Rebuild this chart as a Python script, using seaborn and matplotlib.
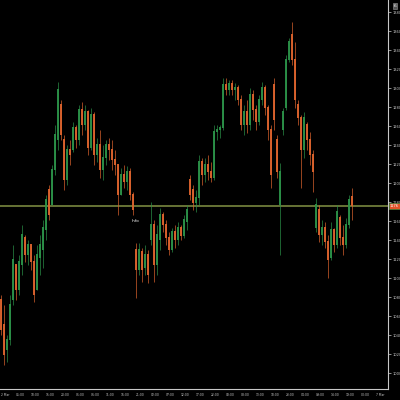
import matplotlib
matplotlib.use("Agg")
import matplotlib.pyplot as plt
import seaborn as sns
import numpy as np

# hourly candles
opens = [1077, 1051, 1025, 1035, 1077, 1114, 1088, 1114, 1142, 1125,
         1135, 1117, 1088, 1121, 1130, 1151, 1193, 1177, 1214, 1246,
         1282, 1246, 1204, 1235, 1235, 1258, 1246, 1277, 1261, 1275,
         1237, 1272, 1230, 1240, 1214, 1227, 1240, 1235, 1225, 1219,
         1188, 1209, 1201, 1212, 1188, 1130, 1109, 1128, 1111, 1125,
         1140, 1156, 1114, 1140, 1167, 1156, 1142, 1130, 1149, 1140,
         1153, 1145, 1159, 1204, 1193, 1179, 1185, 1222, 1209, 1219,
         1212, 1206, 1254, 1256, 1258, 1304, 1298, 1305, 1298, 1300,
         1288, 1261, 1275, 1261, 1293, 1277, 1265, 1288, 1300, 1279,
         1256, 1304, 1246, 1177, 1256, 1279, 1330, 1356, 1330, 1282,
         1269, 1235, 1261, 1246, 1230, 1153, 1172, 1146, 1153, 1138,
         1121, 1151, 1135, 1164, 1142, 1135, 1156, 1186]
highs = [1082, 1072, 1040, 1082, 1135, 1114, 1125, 1156, 1146, 1140,
         1135, 1125, 1135, 1146, 1161, 1188, 1198, 1219, 1261, 1307,
         1288, 1251, 1240, 1246, 1265, 1261, 1282, 1286, 1282, 1277,
         1279, 1275, 1248, 1256, 1240, 1246, 1248, 1246, 1235, 1219,
         1216, 1219, 1218, 1216, 1191, 1137, 1137, 1132, 1135, 1130,
         1180, 1161, 1156, 1174, 1170, 1161, 1149, 1153, 1156, 1159,
         1156, 1167, 1177, 1209, 1198, 1193, 1230, 1227, 1227, 1230,
         1222, 1261, 1261, 1261, 1311, 1311, 1309, 1309, 1306, 1304,
         1293, 1282, 1288, 1300, 1298, 1282, 1293, 1307, 1304, 1282,
         1261, 1311, 1251, 1221, 1279, 1335, 1353, 1370, 1349, 1288,
         1272, 1275, 1265, 1254, 1235, 1185, 1177, 1161, 1159, 1146,
         1159, 1153, 1177, 1167, 1156, 1164, 1188, 1195]
lows = [1040, 1009, 1012, 1030, 1072, 1077, 1082, 1104, 1117, 1114,
        1109, 1075, 1088, 1104, 1111, 1140, 1161, 1177, 1209, 1235,
        1246, 1193, 1198, 1219, 1233, 1237, 1240, 1251, 1256, 1230,
        1235, 1219, 1222, 1206, 1204, 1219, 1225, 1214, 1209, 1167,
        1188, 1195, 1193, 1182, 1167, 1079, 1104, 1096, 1104, 1095,
        1135, 1096, 1104, 1130, 1149, 1135, 1125, 1128, 1132, 1135,
        1140, 1142, 1151, 1182, 1172, 1170, 1177, 1198, 1201, 1204,
        1201, 1204, 1246, 1248, 1256, 1293, 1293, 1293, 1288, 1282,
        1256, 1251, 1253, 1256, 1267, 1256, 1261, 1282, 1272, 1246,
        1195, 1256, 1206, 1125, 1251, 1277, 1328, 1325, 1279, 1261,
        1195, 1227, 1235, 1219, 1191, 1149, 1138, 1135, 1132, 1100,
        1119, 1128, 1132, 1135, 1125, 1132, 1153, 1161]
closes = [1046, 1019, 1035, 1072, 1119, 1088, 1117, 1146, 1125, 1135,
          1117, 1082, 1125, 1135, 1153, 1182, 1167, 1214, 1251, 1298,
          1251, 1204, 1235, 1230, 1258, 1246, 1277, 1261, 1275, 1237,
          1272, 1230, 1240, 1214, 1227, 1240, 1235, 1225, 1219, 1188,
          1209, 1201, 1212, 1188, 1172, 1109, 1130, 1109, 1125, 1104,
          1156, 1114, 1146, 1167, 1156, 1142, 1130, 1149, 1140, 1153,
          1145, 1161, 1172, 1188, 1179, 1185, 1222, 1209, 1219, 1212,
          1206, 1254, 1256, 1258, 1304, 1298, 1305, 1298, 1300, 1288,
          1261, 1275, 1261, 1293, 1277, 1265, 1288, 1300, 1279, 1256,
          1209, 1267, 1212, 1212, 1275, 1330, 1349, 1330, 1288, 1269,
          1235, 1269, 1246, 1230, 1212, 1177, 1146, 1153, 1138, 1119,
          1151, 1135, 1170, 1142, 1135, 1156, 1182, 1176]

price_ticks = list(range(1000, 1381, 20))
time_ticks = list(range(0, 126, 5))
time_labels = ["2 Mar", "05:00", "10:00", "15:00", "20:00", "01:00",
               "06:00", "11:00", "16:00", "21:00", "02:00", "07:00",
               "12:00", "17:00", "22:00", "03:00", "08:00", "13:00",
               "18:00", "23:00", "04:00", "09:00", "14:00", "19:00",
               "00:00", "7 Mar"]

bull = "#2b9148"
bear = "#dc632d"
bid_col = "#6f7d3a"
axis_col = "#c8c8c8"

sns.set_style("dark", {"axes.facecolor": "black", "figure.facecolor": "black"})
plt.rcParams["font.family"] = ["DejaVu Sans"]

fig = plt.figure(figsize=(4, 4), dpi=100)
ax = fig.add_axes([0, 11 / 400, 388 / 400, 389 / 400])
ax.set_facecolor("black")

x = np.arange(len(closes))
o = np.array(opens)
c = np.array(closes)
colors = np.where(c >= o, bull, bear)

ax.vlines(x, lows, highs, colors=colors, linewidth=0.6, alpha=0.8)
ax.bar(x, np.abs(c - o) + 1, bottom=np.minimum(o, c), width=0.38,
       color=colors, edgecolor="none", alpha=0.95)

last = closes[-1]
ax.axhline(last, color=bid_col, linewidth=1.3, zorder=0)
ax.annotate(str(last), xy=(1.0, last), xycoords=("axes fraction", "data"),
            xytext=(1.2, 0), textcoords="offset points", fontsize=2.6,
            color="white", va="center", ha="left",
            bbox=dict(boxstyle="square,pad=0.25", fc="#e4542a", ec="#4c8a3c", lw=0.5),
            annotation_clip=False)

ax.text(43.5, 1160, "Info", fontsize=3, color="white", ha="left", va="center")

ax.set_xlim(-0.333, 129.0)
ax.set_ylim(983.5, 1393)

ax.yaxis.tick_right()
ax.set_yticks(price_ticks)
ax.set_yticklabels([str(p) for p in price_ticks])
ax.set_xticks(time_ticks)
ax.set_xticklabels(time_labels, ha="left")
ax.tick_params(axis="both", colors=axis_col, labelsize=2.6, length=2, width=0.5, pad=1)
ax.tick_params(axis="x", labelsize=2.2)
ax.grid(False)

for side in ["left", "top"]:
    ax.spines[side].set_visible(False)
for side in ["right", "bottom"]:
    ax.spines[side].set_visible(True)
    ax.spines[side].set_color(axis_col)
    ax.spines[side].set_linewidth(0.8)

fig.text(0.987, 0.985, "6", fontsize=3.2, color="white", ha="center", va="center",
         bbox=dict(boxstyle="square,pad=0.15", fc="#555555", ec="#999999", lw=0.4))

fig.savefig("out.png", dpi=100, facecolor="black")
